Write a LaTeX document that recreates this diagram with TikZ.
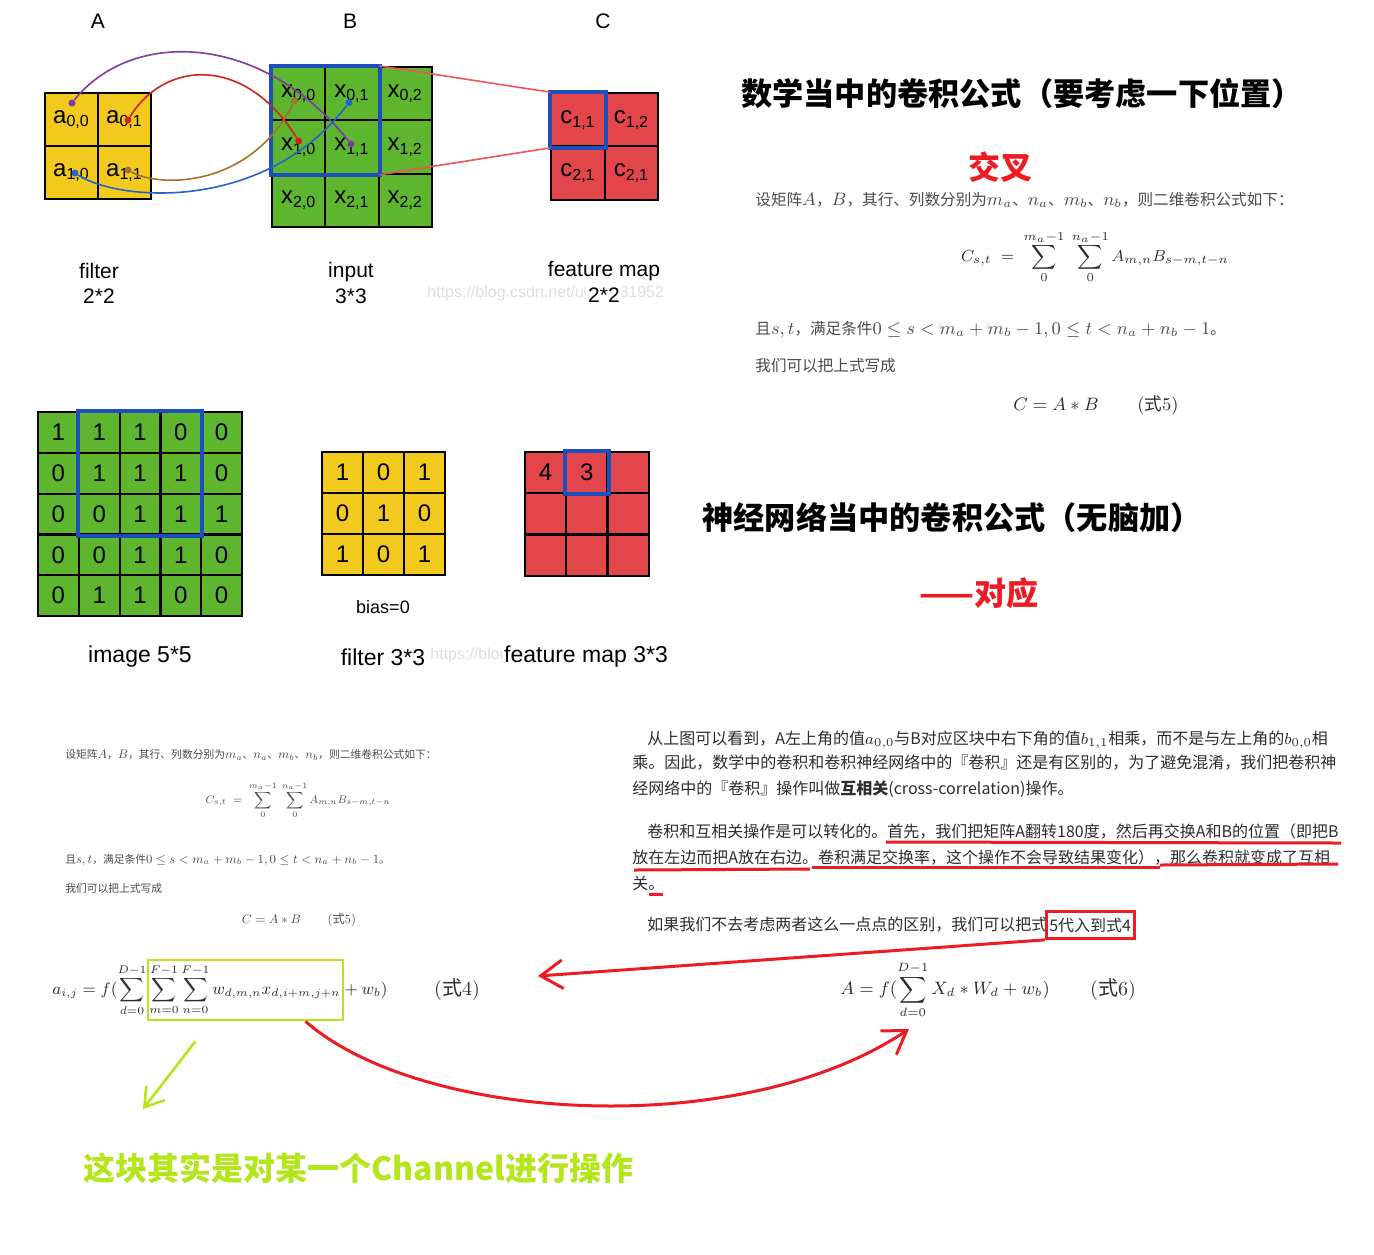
\documentclass[tikz,border=0pt]{standalone}
\usepackage{amssymb,amsmath}
\usepackage{fontspec}
\setmainfont{Liberation Sans}
\newfontfamily\cjk{Noto Sans CJK SC}
\usetikzlibrary{arrows.meta}

\definecolor{fillyellow}{RGB}{242,202,30}
\definecolor{fillgreen}{RGB}{94,181,46}
\definecolor{fillred}{RGB}{227,70,74}
\definecolor{boxblue}{RGB}{28,78,190}
\definecolor{curvepurple}{RGB}{125,60,165}
\definecolor{curvered}{RGB}{205,35,35}
\definecolor{curvebrown}{RGB}{165,115,45}
\definecolor{curveblue}{RGB}{35,100,205}
\definecolor{linkred}{RGB}{235,85,90}
\definecolor{penred}{RGB}{237,28,36}
\definecolor{penlime}{RGB}{181,230,29}
\definecolor{wmgray}{RGB}{222,222,222}
\definecolor{bodygray}{RGB}{45,45,45}
\definecolor{notegray}{RGB}{75,75,75}

\newcommand\setsz[1]{\fontsize{#1}{1.2\dimexpr#1\relax}\selectfont}
\newcommand\bigmath[1]{{\setsz{9pt}$#1$}}

\tikzset{
  gridcell/.style={draw=black, line width=1.1pt, inner sep=0pt, minimum size=#1, font=\setsz{12pt}},
  hilite/.style={draw=boxblue, line width=2pt},
  dot/.style={circle, fill=#1, inner sep=0pt, minimum size=3.5pt},
  link/.style={line width=0.8pt, draw=#1},
  lbl/.style={font=\setsz{10.5pt}, align=center, inner sep=1pt},
  wmark/.style={text=wmgray, font=\setsz{8pt}, anchor=west, inner sep=0pt},
  headline/.style={font=\cjk\bfseries\setsz{15.6pt}, inner sep=0pt},
  body/.style={font=\cjk\setsz{8pt}, text=bodygray, anchor=west, inner sep=0pt},
  note/.style={font=\cjk\setsz{7.8pt}, text=notegray, anchor=west, inner sep=0pt},
  shrunk/.style={scale=0.69, transform shape},
  redpen/.style={draw=penred, line width=1.5pt},
  greenpen/.style={draw=penlime, line width=1.3pt},
  barb/.style={-{Straight Barb[length=#1, width=1.3*#1]}},
}

\begin{document}
\begin{tikzpicture}[x=0.5pt,y=-0.5pt]
  \fill[white] (0,0) rectangle (1374,1254);
  \useasboundingbox (0,0) rectangle (1374,1254);

  % ---------- top row: A * B = C
  \node[wmark] (wmtop) at (427,293) {https://blog.csdn.net/u014681952};

  \node[lbl] (labA) at (98,21) {A};
  \node[lbl] (labB) at (350,21) {B};
  \node[lbl] (labC) at (603,21) {C};

  \foreach \r in {0,1}
    \foreach \c in {0,1}
      \node[gridcell=26.5pt, fill=fillyellow] (fa\r\c) at ({71.5+53*\c},{119.5+53*\r}) {a\textsubscript{\r,\c}};
  \foreach \r in {0,1,2}
    \foreach \c in {0,1,2}
      \node[gridcell=26.65pt, fill=fillgreen] (in\r\c) at ({298.65+53.3*\c},{93.65+53.3*\r}) {x\textsubscript{\r,\c}};
  \node[gridcell=26.75pt, fill=fillred] (fm00) at (578,120) {c\textsubscript{1,1}};
  \node[gridcell=26.75pt, fill=fillred] (fm01) at (631.5,120) {c\textsubscript{1,2}};
  \node[gridcell=26.75pt, fill=fillred] (fm10) at (578,173) {c\textsubscript{2,1}};
  \node[gridcell=26.75pt, fill=fillred] (fm11) at (631.5,173) {c\textsubscript{2,1}};

  \draw[hilite] (in00.north west) rectangle (in11.south east);
  \draw[hilite] (fm00.north west) rectangle (fm00.south east);
  \draw[link=linkred] (in01.north east) -- (fm00.north west);
  \draw[link=linkred] (in11.south east) -- (fm00.south west);

  \node[dot=curvepurple] (pu1) at ([shift={(0.5,-16.5)}]fa00.center) {};
  \node[dot=curvepurple] (pu2) at ([shift={(-1,-3)}]in11.center) {};
  \node[dot=curvered] (rd1) at ([shift={(3.5,0.5)}]fa01.center) {};
  \node[dot=curvered] (rd2) at ([shift={(0,-6)}]in10.center) {};
  \node[dot=curvebrown] (br1) at ([shift={(3.5,-2.5)}]fa11.center) {};
  \node[dot=curvebrown] (br2) at ([shift={(-4,7)}]in00.center) {};
  \node[dot=curveblue] (bl1) at ([shift={(3.5,0.5)}]fa10.center) {};
  \node[dot=curveblue] (bl2) at ([shift={(-3,9)}]in01.center) {};
  \draw[link=curvepurple] (pu1) .. controls (130,30) and (260,30) .. (pu2);
  \draw[link=curvered] (rd1) .. controls (165,60) and (245,55) .. (rd2);
  \draw[link=curvebrown] (br1) .. controls (160,188) and (250,188) .. (br2);
  \draw[link=curveblue] (bl1) .. controls (120,202) and (265,212) .. (bl2);

  \node[lbl] (capA) at (99,283) {filter\\2*2};
  \node[lbl] (capB) at (351,283) {input\\3*3};
  \node[lbl] (capC) at (604,271) {feature map};
  \node[lbl, fill=white] (capCdim) at (604,295) {2*2};

  % ---------- middle row: image, filter, feature map
  \node[wmark] (wmmid) at (430,655) {https://blog.csdn.net/u014681952};

  \foreach \row [count=\r from 0] in {{1,1,1,0,0},{0,1,1,1,0},{0,0,1,1,1},{0,0,1,1,0},{0,1,1,0,0}}
    \foreach \v [count=\c from 0] in \row
      \node[gridcell=20.4pt, fill=fillgreen] (im\r\c) at ({58.4+40.8*\c},{432.4+40.8*\r}) {\v};
  \foreach \row [count=\r from 0] in {{1,0,1},{0,1,0},{1,0,1}}
    \foreach \v [count=\c from 0] in \row
      \node[gridcell=20.5pt, fill=fillyellow] (kf\r\c) at ({342.5+41*\c},{472.5+41*\r}) {\v};
  \foreach \row [count=\r from 0] in {{4,3,~},{~,~,~},{~,~,~}}
    \foreach \v [count=\c from 0] in \row
      \node[gridcell=20.6pt, fill=fillred] (om\r\c) at ({545.6+41.2*\c},{472.6+41.2*\r}) {\v};
  \draw[hilite] (im01.north west) rectangle (im23.south east);
  \draw[hilite] (om01.north west) rectangle (om01.south east);

  \node[font=\setsz{9pt}] (bias) at (383,607) {bias=0};
  \node[lbl, font=\setsz{11.5pt}] (capimg) at (140,657) {image 5*5};
  \node[lbl, font=\setsz{11.5pt}] (capkf) at (383,657) {filter 3*3};
  \node[lbl, font=\setsz{11.5pt}, fill=white, fill opacity=0.85, text opacity=1] (capom) at (586,657) {feature map 3*3};

  % ---------- right: the maths version
  \node[headline] (head1) at (1022,93) {数学当中的卷积公式（要考虑一下位置）};
  \node[headline, text=penred, font=\cjk\bfseries\setsz{16pt}] (cross) at (1000,167) {交叉};
  \node[note] (def1) at (755,200) {设矩阵\bigmath{A}，\bigmath{B}，其行、列数分别为\bigmath{m_a}、\bigmath{n_a}、\bigmath{m_b}、\bigmath{n_b}，则二维卷积公式如下：};
  \node[text=bodygray, font=\setsz{8.5pt}] (conv1) at (1095,257)
    {$\displaystyle C_{s,t} \;=\; \sum\limits_{0}^{m_a-1}\;\sum\limits_{0}^{n_a-1} A_{m,n}B_{s-m,t-n}$};
  \node[note] (cond1) at (755,330) {且\bigmath{s,t}，满足条件\bigmath{0\le s<m_a+m_b-1, 0\le t<n_a+n_b-1}。};
  \node[note] (rew1) at (755,366) {我们可以把上式写成};
  \node[text=bodygray, font=\setsz{8.8pt}] (eqfive) at (1096,405) {$C = A * B$\hspace{2.2em}$(\mbox{\cjk 式}5)$};

  \node[headline] (head2) at (952,518) {神经网络当中的卷积公式（无脑加）};
  \node[headline, text=penred, font=\cjk\bfseries\setsz{16pt}] (match) at (979,593) {——对应};

  % ---------- bottom left: small copy of the maths
  \node[note, shrunk] (def2) at (65,755) {设矩阵\bigmath{A}，\bigmath{B}，其行、列数分别为\bigmath{m_a}、\bigmath{n_a}、\bigmath{m_b}、\bigmath{n_b}，则二维卷积公式如下：};
  \node[text=notegray, font=\setsz{8.5pt}, shrunk] (conv2) at (298,800)
    {$\displaystyle C_{s,t} \;=\; \sum\limits_{0}^{m_a-1}\;\sum\limits_{0}^{n_a-1} A_{m,n}B_{s-m,t-n}$};
  \node[note, shrunk] (cond2) at (65,860) {且\bigmath{s,t}，满足条件\bigmath{0\le s<m_a+m_b-1, 0\le t<n_a+n_b-1}。};
  \node[note, shrunk] (rew2) at (65,888) {我们可以把上式写成};
  \node[text=notegray, font=\setsz{8.8pt}, shrunk] (eqfive2) at (299,920) {$C = A * B$\hspace{2.2em}$(\mbox{\cjk 式}5)$};

  \node[text=bodygray, font=\setsz{9pt}, anchor=west, inner sep=0pt, scale=0.926, transform shape] (eqfour) at (52,990)
    {$\displaystyle a_{i,j} = f(\sum_{d=0}^{D-1}\sum_{m=0}^{F-1}\sum_{n=0}^{F-1} w_{d,m,n}x_{d,i+m,j+n}+w_b)$};
  \node[text=bodygray, font=\setsz{10pt}] (tagfour) at (457,990) {$(\mbox{\cjk 式}4)$};
  \node[draw=penlime, line width=1.3pt, minimum width=97.5pt, minimum height=30pt, inner sep=0pt] (chanbox) at (245.5,990) {};

  % ---------- right paragraph
  \node[body] (p1) at (647,740) {从上图可以看到，A左上角的值$a_{0,0}$与B对应区块中右下角的值$b_{1,1}$相乘，而不是与左上角的$b_{0,0}$相};
  \node[body] (p2) at (632,763) {乘。因此，数学中的卷积和卷积神经网络中的『卷积』还是有区别的，为了避免混淆，我们把卷积神};
  \node[body] (p3) at (632,789) {经网络中的『卷积』操作叫做{\bfseries 互相关}(cross-correlation)操作。};
  \node[body] (p4) at (647,831) {卷积和互相关操作是可以转化的。首先，我们把矩阵A翻转180度，然后再交换A和B的位置（即把B};
  \node[body] (p5) at (632,857) {放在左边而把A放在右边。卷积满足交换率，这个操作不会导致结果变化），那么卷积就变成了互相};
  \node[body] (p6) at (632,883) {关。};
  \node[body] (p7) at (647,925) {如果我们不去考虑两者这么一点点的区别，我们可以把式};
  \node[body, draw=penred, line width=1.5pt, inner xsep=1.5pt, inner ysep=3pt, anchor=west] (subst) at ([xshift=-1.5pt]p7.east) {5代入到式4};

  \draw[redpen] (886,842) -- (1341,843);
  \draw[redpen] (634,870) -- (810,869);
  \draw[redpen] (812,867) -- (1160,867);
  \draw[redpen] (1160,865) -- (1338,864);
  \draw[redpen] (649,894) -- (663,894);

  \node[text=bodygray, font=\setsz{9.2pt}, anchor=west, inner sep=0pt] (eqsix) at (840,990)
    {$\displaystyle A = f(\sum_{d=0}^{D-1} X_d * W_d + w_b)$};
  \node[text=bodygray, font=\setsz{10pt}] (tagsix) at (1113,990) {$(\mbox{\cjk 式}6)$};

  % ---------- annotations
  \coordinate (eqfourpt) at (538,976);
  \coordinate (eqsixpt) at (909,1029);
  \coordinate (chantip) at (143,1109);
  \draw[redpen, barb=11pt] (subst.south west) -- (eqfourpt);
  \draw[redpen, barb=11pt] ([shift={(60,0)}]chanbox.south) .. controls (420,1122) and (740,1142) .. (eqsixpt);
  \draw[greenpen, barb=9pt] ([shift={(-50,20)}]chanbox.south) -- (chantip);

  \node[headline, text=penlime, font=\cjk\bfseries\setsz{16pt}, anchor=west] (chan) at (83,1168) {这块其实是对某一个Channel进行操作};
\end{tikzpicture}
\end{document}
